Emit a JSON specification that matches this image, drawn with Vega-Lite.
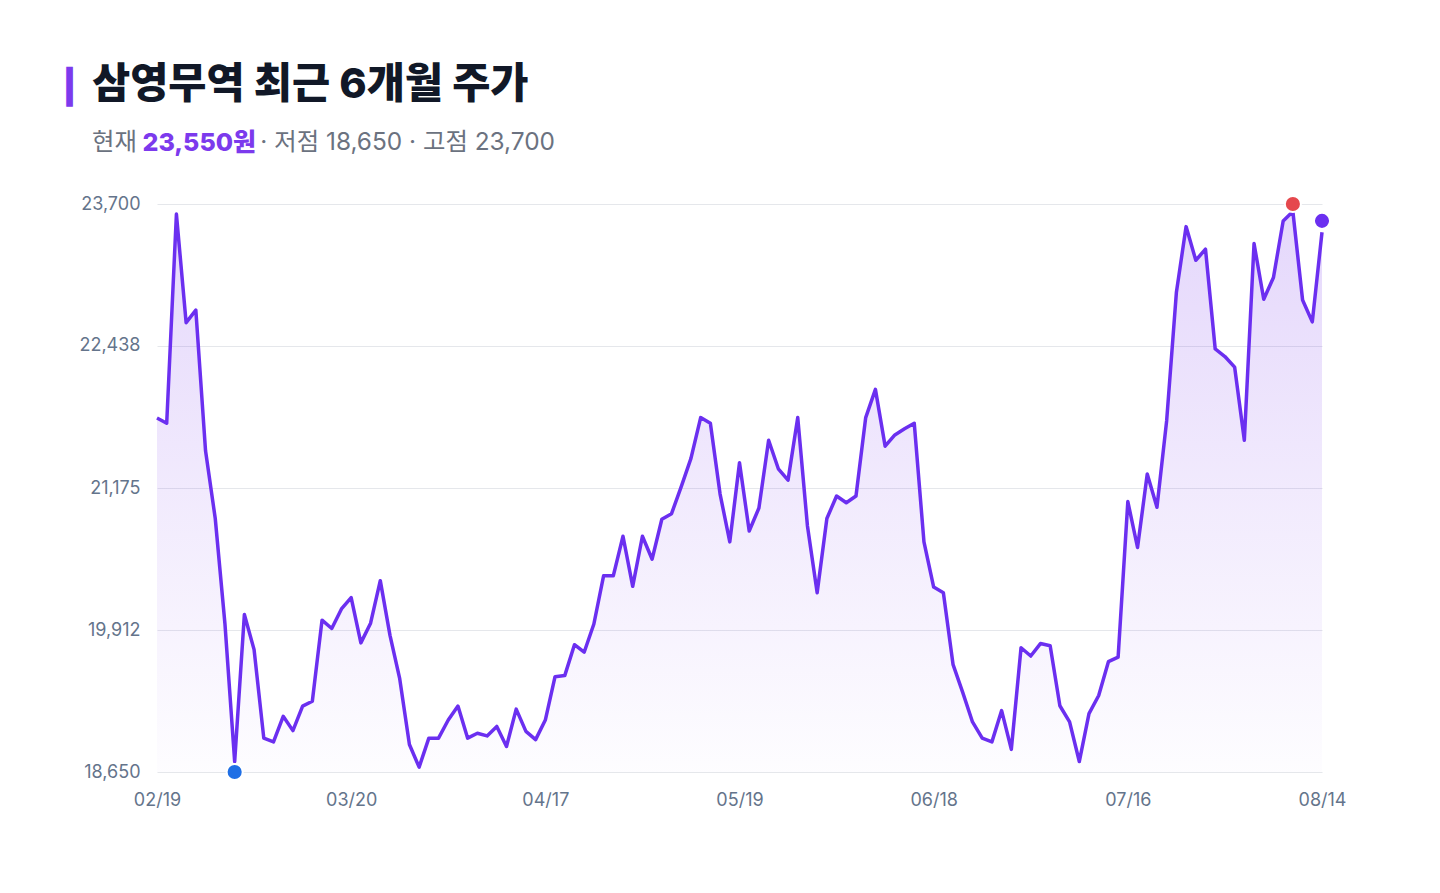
{
  "$schema": "https://vega.github.io/schema/vega-lite/v6.json",
  "autosize": {"type": "none"},
  "width": 1165,
  "height": 568,
  "padding": {"left": 157, "top": 204, "right": 118, "bottom": 121},
  "background": "#ffffff",
  "config": {
    "view": {"stroke": null},
    "font": "Inter, Noto Sans CJK KR"
  },
  "title": {
    "text": "삼영무역 최근 6개월 주가",
    "subtitle": "현재 \u00a0\u00a0\u00a0\u00a0\u00a0\u00a0\u00a0\u00a0\u00a0\u00a0\u00a0\u00a0\u00a0\u00a0\u00a0\u00a0 · 저점 18,650 · 고점 23,700",
    "anchor": "start",
    "frame": "group",
    "dx": -65,
    "offset": -90,
    "font": "Inter, Noto Sans CJK KR",
    "fontSize": 41.5,
    "fontWeight": 800,
    "color": "#111827",
    "subtitleFont": "Inter, Noto Sans CJK KR",
    "subtitleFontSize": 24.4,
    "subtitleColor": "#6b7280",
    "subtitlePadding": 24
  },
  "datasets": {
    "prices": [
      {"idx": 0, "price": 21798}, {"idx": 1, "price": 21751}, {"idx": 2, "price": 23610},
      {"idx": 3, "price": 22645}, {"idx": 4, "price": 22756}, {"idx": 5, "price": 21506},
      {"idx": 6, "price": 20904}, {"idx": 7, "price": 19966}, {"idx": 8, "price": 18743},
      {"idx": 9, "price": 20050}, {"idx": 10, "price": 19738}, {"idx": 11, "price": 18951},
      {"idx": 12, "price": 18918}, {"idx": 13, "price": 19145}, {"idx": 14, "price": 19018},
      {"idx": 15, "price": 19236}, {"idx": 16, "price": 19279}, {"idx": 17, "price": 20000},
      {"idx": 18, "price": 19926}, {"idx": 19, "price": 20100}, {"idx": 20, "price": 20200},
      {"idx": 21, "price": 19798}, {"idx": 22, "price": 19973}, {"idx": 23, "price": 20351},
      {"idx": 24, "price": 19865}, {"idx": 25, "price": 19480}, {"idx": 26, "price": 18894},
      {"idx": 27, "price": 18693}, {"idx": 28, "price": 18951}, {"idx": 29, "price": 18951},
      {"idx": 30, "price": 19112}, {"idx": 31, "price": 19236}, {"idx": 32, "price": 18951},
      {"idx": 33, "price": 18995}, {"idx": 34, "price": 18971}, {"idx": 35, "price": 19055},
      {"idx": 36, "price": 18877}, {"idx": 37, "price": 19209}, {"idx": 38, "price": 19011},
      {"idx": 39, "price": 18938}, {"idx": 40, "price": 19112}, {"idx": 41, "price": 19497},
      {"idx": 42, "price": 19507}, {"idx": 43, "price": 19782}, {"idx": 44, "price": 19715},
      {"idx": 45, "price": 19966}, {"idx": 46, "price": 20394}, {"idx": 47, "price": 20394},
      {"idx": 48, "price": 20746}, {"idx": 49, "price": 20301}, {"idx": 50, "price": 20746},
      {"idx": 51, "price": 20542}, {"idx": 52, "price": 20897}, {"idx": 53, "price": 20947},
      {"idx": 54, "price": 21188}, {"idx": 55, "price": 21439}, {"idx": 56, "price": 21801},
      {"idx": 57, "price": 21751}, {"idx": 58, "price": 21121}, {"idx": 59, "price": 20696},
      {"idx": 60, "price": 21399}, {"idx": 61, "price": 20793}, {"idx": 62, "price": 20997},
      {"idx": 63, "price": 21600}, {"idx": 64, "price": 21346}, {"idx": 65, "price": 21245},
      {"idx": 66, "price": 21801}, {"idx": 67, "price": 20837}, {"idx": 68, "price": 20244},
      {"idx": 69, "price": 20904}, {"idx": 70, "price": 21104}, {"idx": 71, "price": 21044},
      {"idx": 72, "price": 21104}, {"idx": 73, "price": 21801}, {"idx": 74, "price": 22052},
      {"idx": 75, "price": 21547}, {"idx": 76, "price": 21647}, {"idx": 77, "price": 21701},
      {"idx": 78, "price": 21751}, {"idx": 79, "price": 20696}, {"idx": 80, "price": 20294},
      {"idx": 81, "price": 20244}, {"idx": 82, "price": 19604}, {"idx": 83, "price": 19356},
      {"idx": 84, "price": 19095}, {"idx": 85, "price": 18951}, {"idx": 86, "price": 18918},
      {"idx": 87, "price": 19196}, {"idx": 88, "price": 18851}, {"idx": 89, "price": 19755},
      {"idx": 90, "price": 19681}, {"idx": 91, "price": 19792}, {"idx": 92, "price": 19772},
      {"idx": 93, "price": 19239}, {"idx": 94, "price": 19095}, {"idx": 95, "price": 18743},
      {"idx": 96, "price": 19169}, {"idx": 97, "price": 19330}, {"idx": 98, "price": 19631},
      {"idx": 99, "price": 19671}, {"idx": 100, "price": 21054}, {"idx": 101, "price": 20646},
      {"idx": 102, "price": 21299}, {"idx": 103, "price": 21004}, {"idx": 104, "price": 21774},
      {"idx": 105, "price": 22913}, {"idx": 106, "price": 23499}, {"idx": 107, "price": 23200},
      {"idx": 108, "price": 23298}, {"idx": 109, "price": 22411}, {"idx": 110, "price": 22344},
      {"idx": 111, "price": 22250}, {"idx": 112, "price": 21600}, {"idx": 113, "price": 23348},
      {"idx": 114, "price": 22853}, {"idx": 115, "price": 23047}, {"idx": 116, "price": 23549},
      {"idx": 117, "price": 23633}, {"idx": 118, "price": 22846}, {"idx": 119, "price": 22652},
      {"idx": 120, "price": 23449}
    ],
    "markers": [
      {"idx": 8, "price": 18650, "kind": "저점"},
      {"idx": 117, "price": 23700, "kind": "고점"},
      {"idx": 120, "price": 23550, "kind": "현재"}
    ]
  },
  "encoding": {
    "x": {
      "field": "idx",
      "type": "quantitative",
      "scale": {"domain": [0, 120], "nice": false, "zero": false},
      "axis": {
        "values": [0, 20, 40, 60, 80, 100, 120],
        "labelExpr": "datum.value == 0 ? '02/19' : datum.value == 20 ? '03/20' : datum.value == 40 ? '04/17' : datum.value == 60 ? '05/19' : datum.value == 80 ? '06/18' : datum.value == 100 ? '07/16' : '08/14'",
        "grid": false,
        "ticks": false,
        "domain": false,
        "labelFlush": false,
        "labelOverlap": false,
        "labelPadding": 19,
        "labelFontSize": 18,
        "labelColor": "#64748b",
        "labelFont": "Inter",
        "title": "23,550원",
        "titleX": -15,
        "titleY": -622,
        "titleAlign": "left",
        "titleBaseline": "alphabetic",
        "titleFont": "Inter, Noto Sans CJK KR",
        "titleFontSize": 25,
        "titleFontWeight": 800,
        "titleColor": "#7c3aed"
      }
    },
    "y": {
      "field": "price",
      "type": "quantitative",
      "scale": {"domain": [18650, 23700], "nice": false, "zero": false},
      "axis": {
        "values": [18650, 19912, 21175, 22438, 23700],
        "format": ",d",
        "grid": true,
        "gridColor": "#e5e7eb",
        "gridWidth": 1,
        "ticks": false,
        "domain": false,
        "labelPadding": 17,
        "labelFontSize": 18,
        "labelColor": "#64748b",
        "labelFont": "Inter",
        "title": "❙",
        "titleAngle": 0,
        "titleX": -88,
        "titleY": -108,
        "titleAlign": "center",
        "titleBaseline": "alphabetic",
        "titleFont": "DejaVu Sans",
        "titleFontSize": 40,
        "titleFontWeight": "bold",
        "titleColor": "#7c3aed"
      }
    }
  },
  "layer": [
    {
      "data": {"name": "prices"},
      "mark": {
        "type": "area",
        "line": false,
        "color": {
          "gradient": "linear",
          "x1": 0, "y1": 0, "x2": 0, "y2": 1,
          "stops": [
            {"offset": 0, "color": "rgba(124,58,237,0.2)"},
            {"offset": 1, "color": "rgba(124,58,237,0.01)"}
          ]
        }
      },
      "encoding": {"y2": {"datum": 18650}}
    },
    {
      "data": {"name": "prices"},
      "mark": {"type": "line", "color": "#6b2ff0", "strokeWidth": 3.5, "strokeJoin": "round"}
    },
    {
      "data": {"name": "markers"},
      "mark": {"type": "point", "filled": true, "size": 260, "stroke": "#ffffff", "strokeWidth": 2, "opacity": 1},
      "encoding": {
        "color": {
          "field": "kind",
          "type": "nominal",
          "scale": {"domain": ["저점", "고점", "현재"], "range": ["#1f6fe5", "#e5484d", "#6b2ff0"]},
          "legend": null
        }
      }
    }
  ]
}
